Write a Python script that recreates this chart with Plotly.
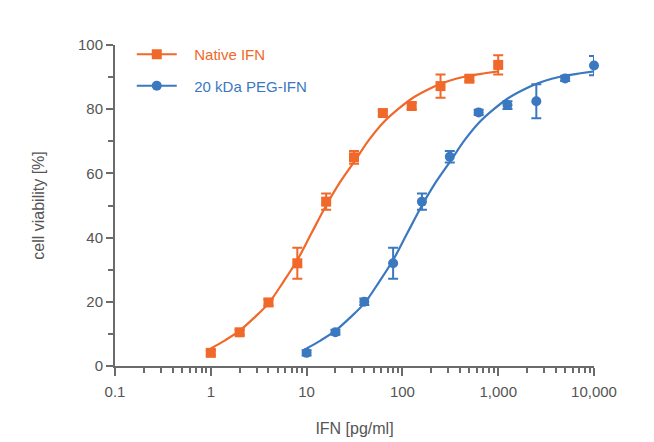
import plotly.graph_objects as go

# ---- data ----
native_x = [1, 2, 4, 8, 16, 31.25, 62.5, 125, 250, 500, 1000]
native_y = [4.1, 10.5, 19.8, 32.0, 51.2, 65.0, 78.8, 81.0, 87.2, 89.5, 93.8]
native_err = [0.8, 0.8, 1.0, 4.8, 2.5, 2.0, 0.8, 1.0, 3.6, 0.8, 3.0]

peg_x = [10, 20, 40, 80, 160, 312.5, 625, 1250, 2500, 5000, 10000]
peg_y = [4.1, 10.5, 20.0, 32.0, 51.2, 65.2, 79.0, 81.3, 82.5, 89.6, 93.6]
peg_err = [0.8, 0.8, 1.0, 4.8, 2.5, 1.8, 0.8, 1.2, 5.3, 0.8, 3.0]

# fitted curves
native_fit_x = [1, 1.41, 2, 2.83, 4, 5.66, 8, 11.3, 16, 22.6, 32, 45, 64, 90, 128, 181, 256, 362, 512, 724, 1000]
native_fit_y = [5.5, 8.0, 11.0, 15.0, 19.5, 26.0, 33.0, 41.5, 50.0, 57.5, 64.0, 70.5, 76.0, 80.0, 83.5, 86.0, 88.0, 89.5, 90.5, 91.2, 91.8]
peg_fit_x = [10, 14.1, 20, 28.3, 40, 56.6, 80, 113, 160, 226, 320, 450, 640, 900, 1280, 1810, 2560, 3620, 5120, 7240, 10000]
peg_fit_y = [5.5, 8.0, 11.0, 15.0, 19.5, 26.0, 33.0, 41.5, 50.0, 57.5, 64.0, 70.5, 76.0, 80.0, 83.5, 86.0, 88.0, 89.5, 90.5, 91.2, 91.8]

x_tickvals = [0.1, 1, 10, 100, 1000, 10000]
x_ticktext = ["0.1", "1", "10", "100", "1,000", "10,000"]
x_minor = [m * d for d in [0.1, 1, 10, 100, 1000] for m in range(2, 10)]
y_tickvals = [0, 20, 40, 60, 80, 100]
y_minor = [10, 30, 50, 70, 90]

names = ["Native IFN", "20 kDa PEG-IFN"]
ORANGE = "#F0682A"
BLUE = "#3A78C0"
AXIS = "#6b6b6b"
TXT = "#555555"
FONT = "Liberation Sans, Arial, sans-serif"

fig = go.Figure()

for fx, fy, c in [(native_fit_x, native_fit_y, ORANGE), (peg_fit_x, peg_fit_y, BLUE)]:
    fig.add_trace(go.Scatter(x=fx, y=fy, mode="lines", line=dict(color=c, width=2.2, shape="spline"),
                             showlegend=False, hoverinfo="skip"))

for px, py, pe, c, sym in [(native_x, native_y, native_err, ORANGE, "square"),
                           (peg_x, peg_y, peg_err, BLUE, "circle")]:
    fig.add_trace(go.Scatter(x=px, y=py, mode="markers",
                             marker=dict(color=c, size=10, symbol=sym),
                             error_y=dict(type="data", array=pe, color=c, thickness=2, width=5),
                             showlegend=False, cliponaxis=False))

for i, (n, c, sym) in enumerate([(names[0], ORANGE, "square"), (names[1], BLUE, "circle")]):
    fig.add_trace(go.Scatter(x=[None], y=[None], mode="lines+markers",
                             name="<span style='color:%s'>&nbsp;&nbsp;&nbsp;%s</span>" % (c, n),
                             line=dict(color=c, width=2.2),
                             marker=dict(color=c, size=10, symbol=sym),
                             legendgroup="g%d" % i))

PW, PH = 479, 321
fig.update_layout(
    width=654, height=442,
    margin=dict(l=107, r=68, t=37, b=84),
    paper_bgcolor="white", plot_bgcolor="white",
    font=dict(family=FONT, color=TXT, size=14),
    showlegend=True,
    legend=dict(x=0.035, y=1 + 7 / PH, xanchor="left", yanchor="top", bgcolor="rgba(0,0,0,0)",
                font=dict(size=15, family=FONT), tracegroupgap=9, itemwidth=40),
    shapes=[
        dict(type="rect", xref="paper", yref="paper", x0=-1, x1=2, y0=1 + 41 / PH, y1=1.5,
             fillcolor="#eef0f5", line=dict(width=0), layer="below"),
        dict(type="rect", xref="paper", yref="paper", x0=-1, x1=-113 / PW, y0=-1, y1=1.5,
             fillcolor="#eef0f5", line=dict(width=0), layer="below"),
    ],
    annotations=[
        dict(text="antiviral assay.", xref="paper", yref="paper", x=-105 / PW, y=1 + 36 / PH,
             xanchor="left", yanchor="bottom", showarrow=False,
             font=dict(size=17, color="#333333", family=FONT)),
    ],
)

fig.update_xaxes(
    type="log", range=[-1, 4], showgrid=False, zeroline=False,
    showline=True, linecolor=AXIS, linewidth=2,
    tickmode="array", tickvals=x_tickvals, ticktext=x_ticktext,
    ticks="outside", ticklen=8, tickwidth=2, tickcolor=AXIS,
    tickfont=dict(size=15, color=TXT), ticklabelstandoff=3,
    minor=dict(tickmode="array", tickvals=x_minor, ticks="outside", ticklen=5, tickwidth=2, tickcolor=AXIS, showgrid=False),
    title=dict(text="IFN [pg/ml]", font=dict(size=16, color=TXT), standoff=24),
)
fig.update_yaxes(
    range=[0, 100], showgrid=False, zeroline=False,
    showline=True, linecolor=AXIS, linewidth=2,
    tickmode="array", tickvals=y_tickvals,
    ticks="outside", ticklen=7, tickwidth=2, tickcolor=AXIS,
    tickfont=dict(size=15, color=TXT),
    minor=dict(tickmode="array", tickvals=y_minor, ticks="outside", ticklen=5, tickwidth=2, tickcolor=AXIS, showgrid=False),
    title=dict(text="cell viability [%]", font=dict(size=16, color=TXT), standoff=29),
)

fig.write_html("out.html")
